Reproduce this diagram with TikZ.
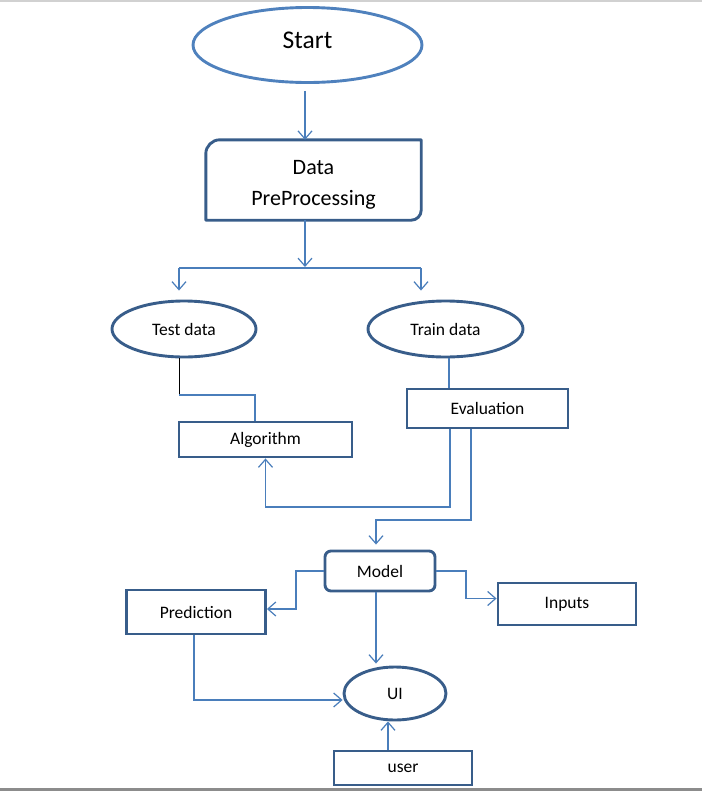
\documentclass[tikz,border=0pt]{standalone}
\usepackage{fontspec}
\setmainfont{Carlito}
\usetikzlibrary{shapes.geometric,arrows.meta,calc}
\definecolor{edgeblue}{HTML}{385D8A}
\definecolor{startblue}{HTML}{4F81BD}
\definecolor{flowblue}{HTML}{4A7EBB}

\begin{document}
\begin{tikzpicture}[x=1pt,y=-1pt,
  oval/.style={ellipse,draw=edgeblue,line width=2.9pt,inner sep=0pt,font=\fontsize{17.5}{20}\selectfont},
  box/.style={rectangle,draw=edgeblue,line width=2.9pt,inner sep=0pt,font=\fontsize{17.5}{20}\selectfont},
  link/.style={draw=flowblue,line width=1.2pt},
  flow/.style={link,-{Straight Barb[length=8pt,width=14pt]}}]
\useasboundingbox (0,0) rectangle (702,793);
\draw[line width=1.5pt,black!18] (0,0.75) -- (702,0.75);
\draw[line width=2.5pt,black!45] (0,789.5) -- (702,789.5);

\node[oval,draw=startblue,minimum width=229pt,minimum height=75pt,font=\fontsize{25.5}{30}\selectfont] (start) at (307.5,45) {Start\rule[-9pt]{0pt}{1pt}};
\node[inner sep=0pt,minimum width=215pt,minimum height=80pt,align=center,font=\fontsize{22}{31}\selectfont] (prep) at (313.5,180) {\rule{0pt}{24pt}Data\\PreProcessing};
\draw[edgeblue,line width=2.9pt,line join=round] ($(prep.north west)+(14,0)$) -- (prep.north east) -- ($(prep.south east)+(0,-10)$) .. controls +(0,5.5) and +(5.5,0) .. ($(prep.south east)+(-10,0)$) -- (prep.south west) -- ($(prep.north west)+(0,14)$) .. controls +(0,-7.7) and +(-7.7,0) .. ($(prep.north west)+(14,0)$) -- cycle;

\node[oval,minimum width=144pt,minimum height=56pt] (test) at (184,329) {Test data};
\node[oval,minimum width=155pt,minimum height=56pt] (train) at (445.5,329) {Train data};
\node[box,minimum width=173pt,minimum height=35pt] (algo) at (265.5,439.5) {Algorithm};
\node[box,minimum width=161pt,minimum height=39pt] (eval) at (487.5,408.5) {Evaluation};
\node[box,rounded corners=6pt,minimum width=110pt,minimum height=40pt] (model) at (380,571) {Model};
\node[box,minimum width=139pt,minimum height=44pt] (pred) at (196,612) {Prediction};
\node[box,minimum width=138pt,minimum height=42pt] (inputs) at (567,604) {Inputs};
\node[oval,minimum width=102pt,minimum height=53pt] (ui) at (395,693.5) {UI};
\node[box,minimum width=138pt,minimum height=34pt] (user) at (403,768) {user};

% bend points
\coordinate (split) at (305,268);
\coordinate (lsplit) at (179,268);
\coordinate (rsplit) at (421,268);
\coordinate (tbend) at (179,395);
\coordinate (e1) at (450,507);
\coordinate (e2) at (471,520);
\coordinate (m1) at (296,609);
\coordinate (m2) at (466,598.5);
\coordinate (p1) at (194,700);

\draw[flow,shorten <=7pt] (split |- start.south) -- (split |- prep.north);
\draw[flow] (split |- prep.south) -- ([yshift=1pt]split);
\draw[link] (lsplit) -- (rsplit);
\draw[flow,shorten >=9pt] (lsplit) -- (lsplit |- test.north);
\draw[flow,shorten >=9pt] (rsplit) -- (rsplit |- train.north);

\draw[line width=0.9pt,black] (tbend |- test.south) -- (tbend);
\draw[link] (tbend) -| ([xshift=-10.5pt]algo.north);
\draw[link] ([xshift=3.5pt]train.south) -- ([xshift=3.5pt]train.south |- eval.north);

\draw[flow] (e1 |- eval.south) -- (e1) -| (algo.south);
\draw[flow,shorten >=5pt] (e2 |- eval.south) -- (e2) -| ([xshift=-4pt]model.north);

\draw[flow] (model.west) -| (m1) -- (m1 -| pred.east);
\draw[flow] (model.east) -| (m2) -- (m2 -| inputs.west);
\draw[flow,shorten >=2pt] ([xshift=-4pt]model.south) -- ([xshift=-4pt]model.south |- ui.north);
\draw[flow] (pred.south -| p1) -- (p1) -- (p1 -| ui.west);
\draw[flow] ([xshift=-15pt]user.north) -- ([xshift=-15pt]user.north |- ui.south);
\end{tikzpicture}
\end{document}
